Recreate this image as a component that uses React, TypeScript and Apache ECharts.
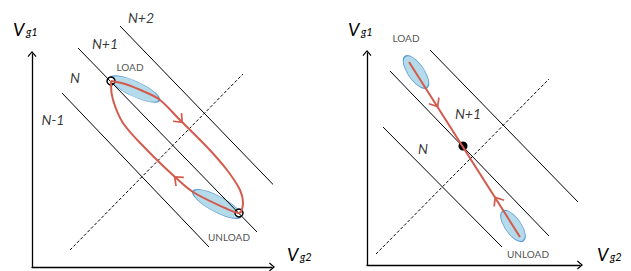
import React, { useEffect, useRef } from "react";
import * as echarts from "echarts";

// ---------- data (units: one unit = one pixel of the axis, origin at the axis corner) ----------
// left panel (unequal gates: loop between LOAD and UNLOAD)
const leftLevelLines: number[][][] = [
  [[30, 174], [177, 20]],
  [[46, 219], [225, 35]],
  [[88, 241], [258, 65]],
];
const leftSymmetryLine: number[][] = [[38, 17], [211, 193]];
const leftLoop: number[][] = [
  [79, 186], [93, 183], [113, 175], [128, 167], [148, 147], [175, 120], [195, 97], [208, 77], [211, 64], [207, 54],
  [193, 59], [161, 75], [143, 90], [115, 117], [91, 144], [81, 167], [79, 182], [79, 186],
];
const leftLoopArrows: number[][] = [[148, 147, -136], [145, 88, 48]];
const leftRegions = ["N+2", "N+1", "N", "N-1"];
const leftRegionPos: number[][] = [[109, 250], [73, 224], [43, 190], [21, 148]];
const leftStates = ["LOAD", "UNLOAD"];
const leftStatePos: number[][] = [[98, 200], [197, 30]];
const leftStatePoints: number[][] = [[79, 186], [207, 54]];
const leftEllipses: number[][] = [[103, 178, 54, 15, -25], [185, 63, 54, 16, -28]];

// right panel (symmetric gates: straight path through the triple point)
const rightLevelLines: number[][][] = [
  [[63, 215], [211, 63]],
  [[23, 194], [182, 29]],
  [[16, 138], [135, 18]],
];
const rightSymmetryLine: number[][] = [[9, 11], [182, 186]];
const rightPath: number[][] = [[42, 203], [153, 28]];
const rightPathArrows: number[][] = [[69, 161, -148], [130, 65, 32]];
const rightRegions = ["N+1", "N"];
const rightRegionPos: number[][] = [[101, 152], [56, 117]];
const rightStates = ["LOAD", "UNLOAD"];
const rightStatePos: number[][] = [[39, 227], [161, 11]];
const rightDot: number[][] = [[96, 119]];
const rightEllipses: number[][] = [[49, 193, 38, 16, -55], [146, 39, 36, 16, -55]];

const RED = "#d35b4d";
const BLUE_FILL = "#b5dbea";
const BLUE_LINE = "#5b9bd5";
const FONT = "Lato, 'Open Sans', sans-serif";
const CHEV = "path://M0,0 L6,7 L4.8,8 L0,2.4 L-4.8,8 L-6,7 Z";

function buildPanel(ax: number, levelLines: number[][][], sym: number[][]) {
  const s: any[] = [];
  levelLines.forEach((l) =>
    s.push({
      type: "line", xAxisIndex: ax, yAxisIndex: ax, data: l, symbol: "none", clip: false,
      lineStyle: { color: "#000", width: 1 }, silent: true,
    })
  );
  s.push({
    type: "line", xAxisIndex: ax, yAxisIndex: ax, data: sym, symbol: "none", clip: false,
    lineStyle: { color: "#000", width: 1, type: [3, 2] }, silent: true,
  });
  return s;
}

function ellipses(ax: number, e: number[][]) {
  return {
    type: "scatter", xAxisIndex: ax, yAxisIndex: ax, clip: false, silent: true,
    data: e.map((d) => ({ value: [d[0], d[1]], symbolSize: [d[2], d[3]], symbolRotate: d[4] })),
    symbol: "circle",
    itemStyle: { color: BLUE_FILL, borderColor: BLUE_LINE, borderWidth: 1, opacity: 1 },
  };
}

function arrows(ax: number, a: number[][]) {
  return {
    type: "scatter", xAxisIndex: ax, yAxisIndex: ax, clip: false, silent: true,
    data: a.map((d) => ({ value: [d[0], d[1]], symbolRotate: d[2] })),
    symbol: CHEV, symbolSize: [13, 9],
    itemStyle: { color: RED, opacity: 1 },
  };
}

function labels(ax: number, names: string[], pos: number[][], size: number, italic: boolean, color: string) {
  return {
    type: "scatter", xAxisIndex: ax, yAxisIndex: ax, clip: false, silent: true, symbolSize: 0,
    data: names.map((n, i) => ({ name: n, value: pos[i] })),
    label: {
      show: true, position: "inside", formatter: "{b}", color, fontSize: size,
      fontStyle: italic ? "italic" : "normal", fontFamily: FONT,
    },
  };
}

const axisLine = {
  show: true,
  symbol: ["none", CHEV],
  symbolSize: [9, 7],
  lineStyle: { color: "#000", width: 1.3 },
};

function axisPair(max: number) {
  return {
    type: "value", min: 0, max, axisLine, axisTick: { show: false }, axisLabel: { show: false },
    splitLine: { show: false },
  };
}

function vLabel(x: number, y: number, sub: string) {
  return [
    { type: "text", x, y, style: { text: "V", font: `italic 18px ${FONT}`, fill: "#000", textVerticalAlign: "top" } },
    { type: "text", x: x + 13, y: y + 6, style: { text: sub, font: `italic 11px ${FONT}`, fill: "#000", textVerticalAlign: "top" } },
  ];
}

export default function App() {
  const ref = useRef<HTMLDivElement>(null);
  useEffect(() => {
    if (!ref.current) return;
    const chart = echarts.init(ref.current, undefined, { renderer: "svg" });
    const series: any[] = [
      ...buildPanel(0, leftLevelLines, leftSymmetryLine),
      ellipses(0, leftEllipses),
      {
        type: "line", xAxisIndex: 0, yAxisIndex: 0, data: leftLoop, symbol: "none", smooth: 0.35, clip: false,
        lineStyle: { color: RED, width: 2 }, silent: true,
      },
      arrows(0, leftLoopArrows),
      {
        type: "scatter", xAxisIndex: 0, yAxisIndex: 0, data: leftStatePoints, symbol: "circle", symbolSize: 8, clip: false,
        itemStyle: { color: "#fff", borderColor: "#000", borderWidth: 1.5, opacity: 1 }, silent: true,
      },
      labels(0, leftRegions, leftRegionPos, 14, true, "#000"),
      labels(0, leftStates, leftStatePos, 10, false, "#222"),

      ...buildPanel(1, rightLevelLines, rightSymmetryLine),
      ellipses(1, rightEllipses),
      {
        type: "line", xAxisIndex: 1, yAxisIndex: 1, data: rightPath, symbol: "none", clip: false,
        lineStyle: { color: RED, width: 2 }, silent: true,
      },
      arrows(1, rightPathArrows),
      {
        type: "scatter", xAxisIndex: 1, yAxisIndex: 1, data: rightDot, symbol: "circle", symbolSize: 9, clip: false,
        itemStyle: { color: "#000", opacity: 1 }, silent: true,
      },
      labels(1, rightRegions, rightRegionPos, 14, true, "#000"),
      labels(1, rightStates, rightStatePos, 10, false, "#222"),
    ];
    chart.setOption({
      animation: false,
      backgroundColor: "#fff",
      grid: [
        { left: 32, top: 54, width: 240, height: 213 },
        { left: 367, top: 53, width: 213, height: 212 },
      ],
      xAxis: [{ ...axisPair(240), gridIndex: 0 }, { ...axisPair(213), gridIndex: 1 }],
      yAxis: [{ ...axisPair(213), gridIndex: 0 }, { ...axisPair(212), gridIndex: 1 }],
      graphic: [
        ...vLabel(13, 20, "g1"),
        ...vLabel(287, 245, "g2"),
        ...vLabel(348, 20, "g1"),
        ...vLabel(597, 245, "g2"),
      ],
      series,
    });
    return () => chart.dispose();
  }, []);
  return <div ref={ref} style={{ position: "fixed", left: 0, top: 0, width: 631, height: 271 }} />;
}
